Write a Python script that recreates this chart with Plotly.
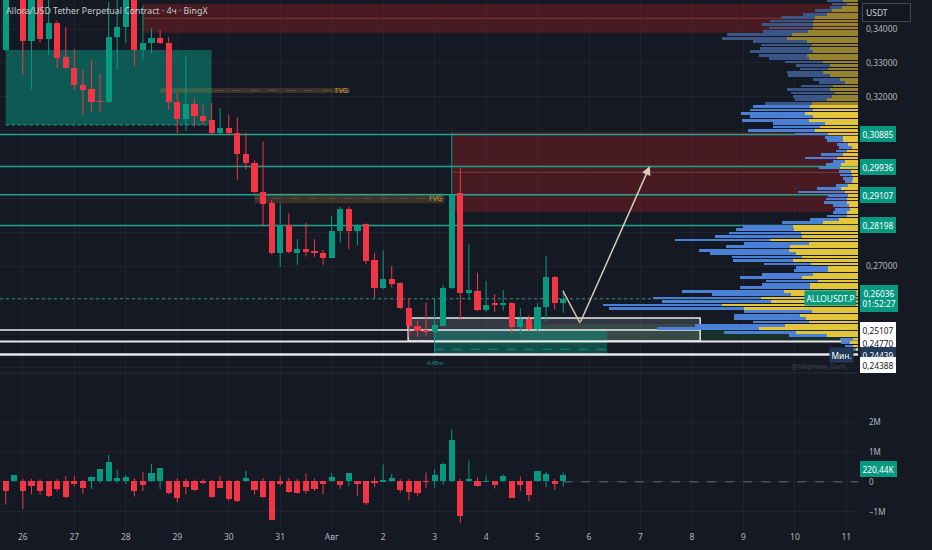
import pandas as pd
import plotly.graph_objects as go

# -------------------------------------------------
# data (ALLOUSDT.P, 4h, BingX)
# -------------------------------------------------
candle_start = "2025-07-25 16:00"

opens = [0.3338, 0.3540, 0.3555, 0.3365, 0.3530, 0.3370, 0.3419, 0.3317, 0.3286, 0.3235,
         0.3222, 0.3186, 0.3185, 0.3375, 0.3405, 0.3520, 0.3338, 0.3360, 0.3373, 0.3360,
         0.3184, 0.3134, 0.3178, 0.3143, 0.3131, 0.3092, 0.3107, 0.3092, 0.3031, 0.3005,
         0.2920, 0.2885, 0.2738, 0.2821, 0.2739, 0.2749, 0.2744, 0.2739, 0.2725, 0.2804,
         0.2868, 0.2802, 0.2823, 0.2718, 0.2634, 0.2662, 0.2649, 0.2577, 0.2524, 0.2510,
         0.2506, 0.2524, 0.2634, 0.2915, 0.2619, 0.2627, 0.2570, 0.2588, 0.2585, 0.2590,
         0.2521, 0.2544, 0.2513, 0.2580, 0.2667, 0.2590]
highs = [0.3560, 0.3590, 0.3570, 0.3560, 0.3545, 0.3500, 0.3425, 0.3405, 0.3340, 0.3279,
         0.3308, 0.3267, 0.3480, 0.3500, 0.3560, 0.3540, 0.3471, 0.3402, 0.3397, 0.3375,
         0.3210, 0.3323, 0.3195, 0.3176, 0.3181, 0.3166, 0.3146, 0.3139, 0.3094, 0.3012,
         0.3067, 0.2895, 0.2885, 0.2857, 0.2779, 0.2828, 0.2779, 0.2747, 0.2848, 0.2875,
         0.2875, 0.2824, 0.2826, 0.2738, 0.2747, 0.2700, 0.2652, 0.2605, 0.2539, 0.2592,
         0.2605, 0.2644, 0.3095, 0.2989, 0.2765, 0.2680, 0.2656, 0.2617, 0.2629, 0.2593,
         0.2575, 0.2555, 0.2590, 0.2730, 0.2671, 0.2629]
lows = [0.3335, 0.3500, 0.3264, 0.3222, 0.3360, 0.3323, 0.3284, 0.3283, 0.3220, 0.3146,
        0.3156, 0.3156, 0.3180, 0.3279, 0.3358, 0.3289, 0.3310, 0.3328, 0.3356, 0.3161,
        0.3092, 0.3099, 0.3112, 0.3117, 0.3090, 0.3090, 0.3085, 0.2954, 0.2985, 0.2915,
        0.2820, 0.2735, 0.2698, 0.2737, 0.2703, 0.2728, 0.2727, 0.2703, 0.2723, 0.2769,
        0.2749, 0.2762, 0.2706, 0.2605, 0.2632, 0.2637, 0.2573, 0.2491, 0.2491, 0.2494,
        0.24439, 0.2522, 0.2632, 0.2541, 0.2600, 0.2567, 0.2565, 0.2565, 0.2568, 0.2501,
        0.2500, 0.2505, 0.2508, 0.2536, 0.2572, 0.2562]
closes = [0.3540, 0.3560, 0.3365, 0.3530, 0.3370, 0.3419, 0.3315, 0.3286, 0.3234, 0.3221,
          0.3185, 0.3185, 0.3376, 0.3407, 0.3520, 0.3338, 0.3360, 0.3373, 0.3360, 0.3185,
          0.3134, 0.3178, 0.3143, 0.3129, 0.3092, 0.3109, 0.3092, 0.3030, 0.3005, 0.2920,
          0.2882, 0.2738, 0.2821, 0.2741, 0.2749, 0.2742, 0.2738, 0.2725, 0.2804, 0.2868,
          0.2802, 0.2821, 0.2716, 0.2634, 0.2662, 0.2647, 0.2575, 0.2524, 0.2509, 0.2508,
          0.2526, 0.2634, 0.2910, 0.2619, 0.2629, 0.2570, 0.2585, 0.2586, 0.2589, 0.2521,
          0.2544, 0.2513, 0.2580, 0.2667, 0.2590, 0.26036]

# volume delta pane, millions
delta_close = [-0.33, 0.21, -0.33, -0.16, -0.32, -0.49, -0.24, -0.51, -0.09, -0.21,
               0.14, 0.40, 0.66, 0.10, 0.14, -0.31, -0.12, 0.28, 0.44, -0.38,
               -0.54, -0.18, -0.30, -0.04, -0.53, -0.21, -0.60, -0.64, 0.11, -0.29,
               -0.53, -1.28, -0.09, -0.37, -0.38, -0.33, -0.24, -0.09, 0.14, -0.11,
               0.27, -0.09, -0.71, -0.07, 0.02, 0.11, -0.29, -0.36, -0.38, -0.01,
               0.21, 0.58, 1.37, -1.16, 0.09, -0.16, 0.01, -0.13, 0.18, -0.54,
               -0.12, -0.44, 0.34, 0.26, -0.09, 0.22]
delta_high = [0.00, 0.21, 0.10, 0.10, 0.09, 0.00, 0.09, 0.18, 0.20, 0.07,
              0.18, 0.40, 0.91, 0.40, 0.24, 0.13, 0.32, 0.60, 0.44, 0.00,
              0.12, 0.11, 0.08, 0.09, 0.07, 0.18, 0.07, 0.07, 0.37, 0.04,
              0.13, 0.00, 0.18, 0.13, 0.10, 0.28, 0.11, 0.04, 0.30, 0.00,
              0.27, 0.00, 0.00, 0.16, 0.58, 0.26, 0.09, 0.10, 0.00, 0.31,
              0.42, 0.64, 1.77, 0.11, 0.71, 0.16, 0.21, 0.00, 0.24, 0.00,
              0.18, 0.00, 0.34, 0.34, 0.09, 0.31]
delta_low = [-0.76, 0.00, -0.91, -0.42, -0.42, -0.51, -0.31, -0.54, -0.16, -0.40,
             -0.24, -0.04, 0.00, -0.04, -0.07, -0.49, -0.31, 0.00, -0.24, -0.42,
             -0.68, -0.42, -0.30, -0.07, -0.53, -0.21, -0.64, -0.69, 0.00, -0.42,
             -0.53, -1.28, -0.13, -0.37, -0.40, -0.40, -0.31, -0.42, 0.00, -0.23,
             -0.16, -0.46, -0.77, -0.18, 0.00, 0.00, -0.36, -0.62, -0.47, -0.22,
             -0.20, -0.11, 0.00, -1.38, 0.00, -0.16, 0.00, -0.22, 0.00, -0.54,
             -0.31, -0.64, 0.00, -0.18, -0.27, -0.16]

# visible-range volume profile, rows from the top down (k)
profile_top = 0.3484
profile_row = 0.00101
value_area_high = 0.3176
profile_buy = [14.7, 11.3, 16.3, 26.3, 31.3, 43, 44.7, 45.3, 45.3, 49.7,
               66.3, 71.3, 51.3, 46.3, 48, 44.7, 51.3, 48.7, 34.7, 28,
               30, 34.7, 28, 18, 13, 24.7, 28, 23, 26.3, 31.3,
               46.3, 48, 44.7, 53, 44.7, 48.7, 33, 38, 43, 30.3,
               14.7, 15.3, 9.7, 6.3, 11.3, 15.3, 21.3, 13, 17.3, 18,
               7.3, 6.3, 4.7, 6.3, 9.7, 17.3, 13, 9.7, 11.3, 11.3,
               8.7, 8, 11.3, 10.7, 18.7, 35.3, 64.7, 63.7, 57, 56.3,
               88, 49, 68, 68.7, 62, 56.3, 64.7, 47, 29.7, 29.7,
               44.7, 56.3, 39.7, 48, 48, 74, 67.3, 97.3, 87, 135.7,
               114, 45.7, 58, 52.3, 48.7, 73, 99, 62, 31.3, 5.3,
               8, 4.7, 1.3]
profile_sell = [16.7, 15, 11.7, 16.7, 23.3, 34, 43.3, 51, 43.3, 45,
                65, 65, 53.3, 51, 50, 63.3, 48, 40, 38, 34,
                28, 36.7, 41.7, 26.7, 25.7, 32.7, 43.3, 44.3, 39, 31.7,
                46.3, 57.3, 63.3, 64.3, 63.3, 67.3, 52.3, 46.7, 67, 32.7,
                18.3, 16, 11.7, 12.3, 10.7, 22, 31.7, 11.7, 14.7, 21.3,
                11.3, 11.7, 10, 6.7, 12.3, 24, 46.7, 20, 20.7, 22.7,
                16, 15, 14, 20.7, 29.3, 41, 50.7, 58.3, 71.7, 86.7,
                95, 65, 64, 90, 86, 70, 60.7, 46.7, 32.3, 34.3,
                51.7, 61.7, 52.7, 47.7, 70, 102.3, 79, 107.3, 109.3, 119.7,
                135, 68, 66, 71.7, 56.7, 90, 101.7, 72, 37.7, 12.7,
                9.3, 8.3, 6.7]

# drawn levels
level_lines = [0.30885, 0.29936, 0.29107, 0.28198]
white_levels = [0.25107, 0.24770, 0.24388]
low_mark = 0.24439
last_price = 0.26036
countdown = "01:52:27"
last_delta = 0.22044

# price ticks; the ones hidden behind labels stay blank
price_ticks = [0.24, 0.25, 0.26, 0.27, 0.28, 0.29, 0.30, 0.31, 0.32, 0.33, 0.34]
price_tick_text = ["", "", "", "0,27000", "", "", "", "", "0,32000", "0,33000", "0,34000"]

# zones: start, end, top, bottom
teal_box = ["2025-07-25 16:00", "2025-07-29 16:00", 0.33380, 0.31165]
fvg_zones = [["2025-07-28 16:00", "2025-08-01 08:30", 0.32258, 0.32110],
             ["2025-07-30 12:00", "2025-08-03 04:30", 0.29147, 0.28852]]
supply_zones = [["2025-07-28 08:00", 0.34738, 0.33891, 0.34316],
                ["2025-08-03 08:00", 0.30949, 0.28604, 0.29768]]
range_box = ["2025-08-02 11:40", "2025-08-08 03:50", 0.25465, 0.24786]
demand_zone = ["2025-08-04 16:00", 0.25288, 0.24757]
liq_box = ["2025-08-03 00:00", "2025-08-06 08:30", 0.25111, 0.24373, 0.24540]

# projected path
path_times = ["2025-08-05 11:52", "2025-08-05 19:48", "2025-08-07 04:24"]
path_prices = [0.26262, 0.25317, 0.29954]

day_labels = ["26", "27", "28", "29", "30", "31", "Авг", "2", "3", "4", "5",
              "6", "7", "8", "9", "10", "11"]

x_left = "2025-07-25 13:20"
x_right = "2025-08-11 05:26"

# -------------------------------------------------
# colours
# -------------------------------------------------
BG = "#151924"
GRID = "#1f2330"
UP = "#089981"
DOWN = "#f23645"
TEAL = "#22a38e"
TXT = "#b2b5be"
FONT = "Noto Sans"
NARROW = "Liberation Sans Narrow, Noto Sans"
LBL = 8.3
BAR_MS = 4 * 3600 * 1000 * 0.72
PLOT_W = 858  # plot area width in px; profile units are drawn 1 unit = 1 px


def fmt(v):
    return f"{v:.5f}".replace(".", ",")


times = pd.date_range(candle_start, periods=len(opens), freq="4h")
day_ticks = pd.date_range("2025-07-26", periods=len(day_labels), freq="D")
unit_ms = (pd.Timestamp(x_right) - pd.Timestamp(x_left)).total_seconds() * 1000 / PLOT_W

fig = go.Figure()

# volume profile, hanging off the right edge of the price pane
row_prices = [profile_top - k * profile_row for k in range(len(profile_buy))]
total = [b + s for b, s in zip(profile_buy, profile_sell)]
blue_cols = ["#3a5686" if p > value_area_high else "#4a80d6" for p in row_prices]
yell_cols = ["#95832f" if p > value_area_high else "#e3c53c" for p in row_prices]
for vals, cols in ((total, blue_cols), (profile_buy, yell_cols)):
    fig.add_trace(go.Bar(x=[-v * unit_ms for v in vals], y=row_prices,
                         base=[x_right] * len(vals), orientation="h", yaxis="y",
                         width=profile_row * 0.8, marker=dict(color=cols, line_width=0),
                         hoverinfo="skip", showlegend=False))


def candles(o, h, l, c, yaxis, min_body):
    up = [cc >= oo for oo, cc in zip(o, c)]
    for flag, col in ((True, UP), (False, DOWN)):
        wx, wy = [], []
        for t, hh, ll, u in zip(times, h, l, up):
            if u == flag:
                wx += [t, t, None]
                wy += [hh, ll, None]
        fig.add_trace(go.Scatter(x=wx, y=wy, mode="lines", line=dict(color=col, width=1),
                                 yaxis=yaxis, hoverinfo="skip", showlegend=False))
    base = [min(oo, cc) for oo, cc in zip(o, c)]
    size = [max(abs(cc - oo), min_body) for oo, cc in zip(o, c)]
    cols = [UP if u else DOWN for u in up]
    fig.add_trace(go.Bar(x=times, y=size, base=base, width=BAR_MS, yaxis=yaxis,
                         marker=dict(color=cols, line_width=0),
                         hoverinfo="skip", showlegend=False))


candles(opens, highs, lows, closes, "y", 0.0001)
candles([0] * len(delta_close), delta_high, delta_low, delta_close, "y2", 0.01)

# projected path
fig.add_trace(go.Scatter(x=path_times[:2], y=path_prices[:2], mode="lines",
                         line=dict(color="#d6cdb6", width=1.5), hoverinfo="skip",
                         showlegend=False, yaxis="y"))

shapes = []


def rect(x0, x1, y0, y1, fill, line=None, width=0, dash=None, layer="between"):
    shapes.append(dict(type="rect", xref="x", yref="y", x0=x0, x1=x1, y0=y0, y1=y1,
                       fillcolor=fill, layer=layer,
                       line=dict(color=line or "rgba(0,0,0,0)", width=width, dash=dash)))


def hline(x0, x1, y, color, width=1, dash=None, yref="y", layer="between"):
    shapes.append(dict(type="line", xref="x", yref=yref, x0=x0, x1=x1, y0=y, y1=y,
                       layer=layer, line=dict(color=color, width=width, dash=dash)))


# supply zones (red)
for start, top, bot, mid in supply_zones:
    rect(start, x_right, bot, top, "rgba(130,28,34,0.48)")
    hline(start, x_right, mid, "rgba(200,90,90,0.45)", 1)

# teal range box
rect(teal_box[0], teal_box[1], teal_box[3], teal_box[2], "rgba(8,153,129,0.5)")
hline(teal_box[0], teal_box[1], teal_box[3], "#1aa58d", 1, "dot")

# fair value gaps
for f in fvg_zones:
    rect(f[0], f[1], f[3], f[2], "rgba(180,130,60,0.24)")
    hline(f[0], f[1], (f[2] + f[3]) / 2, "rgba(120,100,70,0.6)", 1, "dash")

# key levels
for lv in level_lines:
    hline(x_left, x_right, lv, TEAL, 1.5)
hline(x_left, x_right, last_price, "#1c8f7c", 1, "dot")

# demand zone + range box
rect(demand_zone[0], x_right, demand_zone[2], demand_zone[1], "rgba(30,125,60,0.25)")
rect(range_box[0], range_box[1], range_box[3], range_box[2], "rgba(125,128,140,0.3)",
     line="#e6e6e6", width=1.5)
rect(liq_box[0], liq_box[1], liq_box[3], liq_box[2], "rgba(8,153,129,0.42)")
hline(liq_box[0], liq_box[1], liq_box[4], "rgba(60,180,160,0.6)", 1, "dash")

hline(x_left, range_box[1], white_levels[0], "#eeeeee", 1.5)
hline(x_left, x_right, white_levels[1], "#e8e8e8", 2)
hline(x_left, x_right, white_levels[2], "#e8e8e8", 2.5)

# pane separator and last-delta line
shapes.append(dict(type="line", xref="paper", yref="paper", x0=0, x1=1, y0=0.2962, y1=0.2962,
                   line=dict(color="#2a2e39", width=1)))
hline(times[-1], x_right, 0, "#6a6d78", 1, "dash", yref="y2")

fig.update_layout(shapes=shapes)

# -------------------------------------------------
# annotations
# -------------------------------------------------
ann = []
lbl = dict(size=LBL, color="white", family=FONT)


def right_label(y, text, bg, color="white", yref="y", yshift=0):
    ann.append(dict(xref="paper", yref=yref, x=1, y=y, xanchor="left", yanchor="middle",
                    xshift=2, yshift=yshift, text=text, showarrow=False,
                    bgcolor=bg, borderpad=1.5, bordercolor=bg,
                    font=dict(size=LBL, color=color, family=FONT)))


for lv in level_lines:
    right_label(lv, fmt(lv), UP)
right_label(last_price, fmt(last_price) + "<br>" + countdown, UP)
ann.append(dict(xref="paper", yref="y", x=1, y=last_price, xanchor="right", yanchor="middle",
                xshift=-1, yshift=1, text="ALLOUSDT.P", showarrow=False, bgcolor=UP,
                borderpad=1.5, font=lbl))
right_label(white_levels[0], fmt(white_levels[0]), "#ffffff", "#131722")
right_label(white_levels[1], fmt(white_levels[1]), "#ffffff", "#131722", yshift=-1)
right_label(low_mark, fmt(low_mark), "#22395a", yshift=-2)
right_label(white_levels[2], fmt(white_levels[2]), "#ffffff", "#131722", yshift=-11)
ann.append(dict(xref="paper", yref="y", x=1, y=low_mark, xanchor="right", yanchor="middle",
                xshift=-4, yshift=-2, text="Мин.", showarrow=False, bgcolor="#22395a",
                borderpad=1.5, font=lbl))
right_label(last_delta, f"{last_delta * 1000:.2f}K".replace(".", ","), UP, yref="y2",
            yshift=6)

ann.append(dict(xref="paper", yref="paper", x=1, y=1, xanchor="left", yanchor="top",
                xshift=4, yshift=-3,
                text="USDT&nbsp;&nbsp;&nbsp;&nbsp;&nbsp;&nbsp;&nbsp;&nbsp;&nbsp;",
                showarrow=False, bgcolor="#131722", bordercolor="#434651", borderwidth=1,
                borderpad=3, font=dict(size=8.5, color="#d1d4dc", family=FONT)))
ann.append(dict(xref="paper", yref="paper", x=0, y=1, xanchor="left", yanchor="top",
                xshift=4, yshift=-3, showarrow=False,
                text="Allora/USD Tether Perpetual Contract · 4ч · BingX",
                font=dict(size=8.8, color="#c9ccd4", family=NARROW)))

for f in fvg_zones:
    ann.append(dict(xref="x", yref="y", x=f[1], y=(f[2] + f[3]) / 2, xanchor="right",
                    showarrow=False, text="FVG",
                    font=dict(size=7, color="#c8a03a", family=FONT)))
ann.append(dict(xref="x", yref="y", x=liq_box[0], y=liq_box[3], yanchor="top", yshift=-2,
                showarrow=False, text="4.48m",
                font=dict(size=5.5, color="#1a8f7c", family=FONT)))
ann.append(dict(xref="paper", yref="y", x=0.993, y=white_levels[2], xanchor="right",
                yanchor="top", yshift=-5, showarrow=False, text="@Nephew_Sam_",
                font=dict(size=7.5, color="#3d414d", family=FONT)))

# arrow head of projected path
ann.append(dict(xref="x", yref="y", axref="x", ayref="y",
                x=path_times[2], y=path_prices[2], ax=path_times[1], ay=path_prices[1],
                showarrow=True, arrowhead=2, arrowsize=1.2, arrowwidth=1.5,
                arrowcolor="#d6cdb6", text=""))

fig.update_layout(annotations=ann)

# -------------------------------------------------
# layout
# -------------------------------------------------
fig.update_layout(
    width=932, height=550,
    margin=dict(l=0, r=74, t=0, b=20),
    paper_bgcolor=BG, plot_bgcolor=BG,
    separators=", ",
    barmode="overlay", bargap=0,
    showlegend=False,
    font=dict(family=FONT, size=8.5, color=TXT),
    xaxis=dict(type="date", range=[x_left, x_right], anchor="y2",
               tickvals=day_ticks, ticktext=day_labels, ticks="",
               showgrid=True, gridcolor=GRID, gridwidth=1, zeroline=False,
               showline=False, tickfont=dict(size=8.5, color=TXT)),
    yaxis=dict(domain=[0.2968, 1], range=[0.23849, 0.348565], side="right",
               tickvals=price_ticks, ticktext=price_tick_text, showgrid=True,
               gridcolor=GRID, zeroline=False, ticks="", ticklabelstandoff=7,
               tickfont=dict(size=8.5, color=TXT)),
    yaxis2=dict(domain=[0, 0.2953], range=[-1.61, 3.623], side="right",
                tickvals=[2, 1, 0, -1], ticktext=["2M", "1M", "0", "−1M"],
                showgrid=True, gridcolor=GRID, zeroline=False, ticks="",
                ticklabelstandoff=10, tickfont=dict(size=8, color=TXT)),
)

fig.write_html("out.html", config={"displayModeBar": False},
               post_script="document.body.style.margin='0px';")
